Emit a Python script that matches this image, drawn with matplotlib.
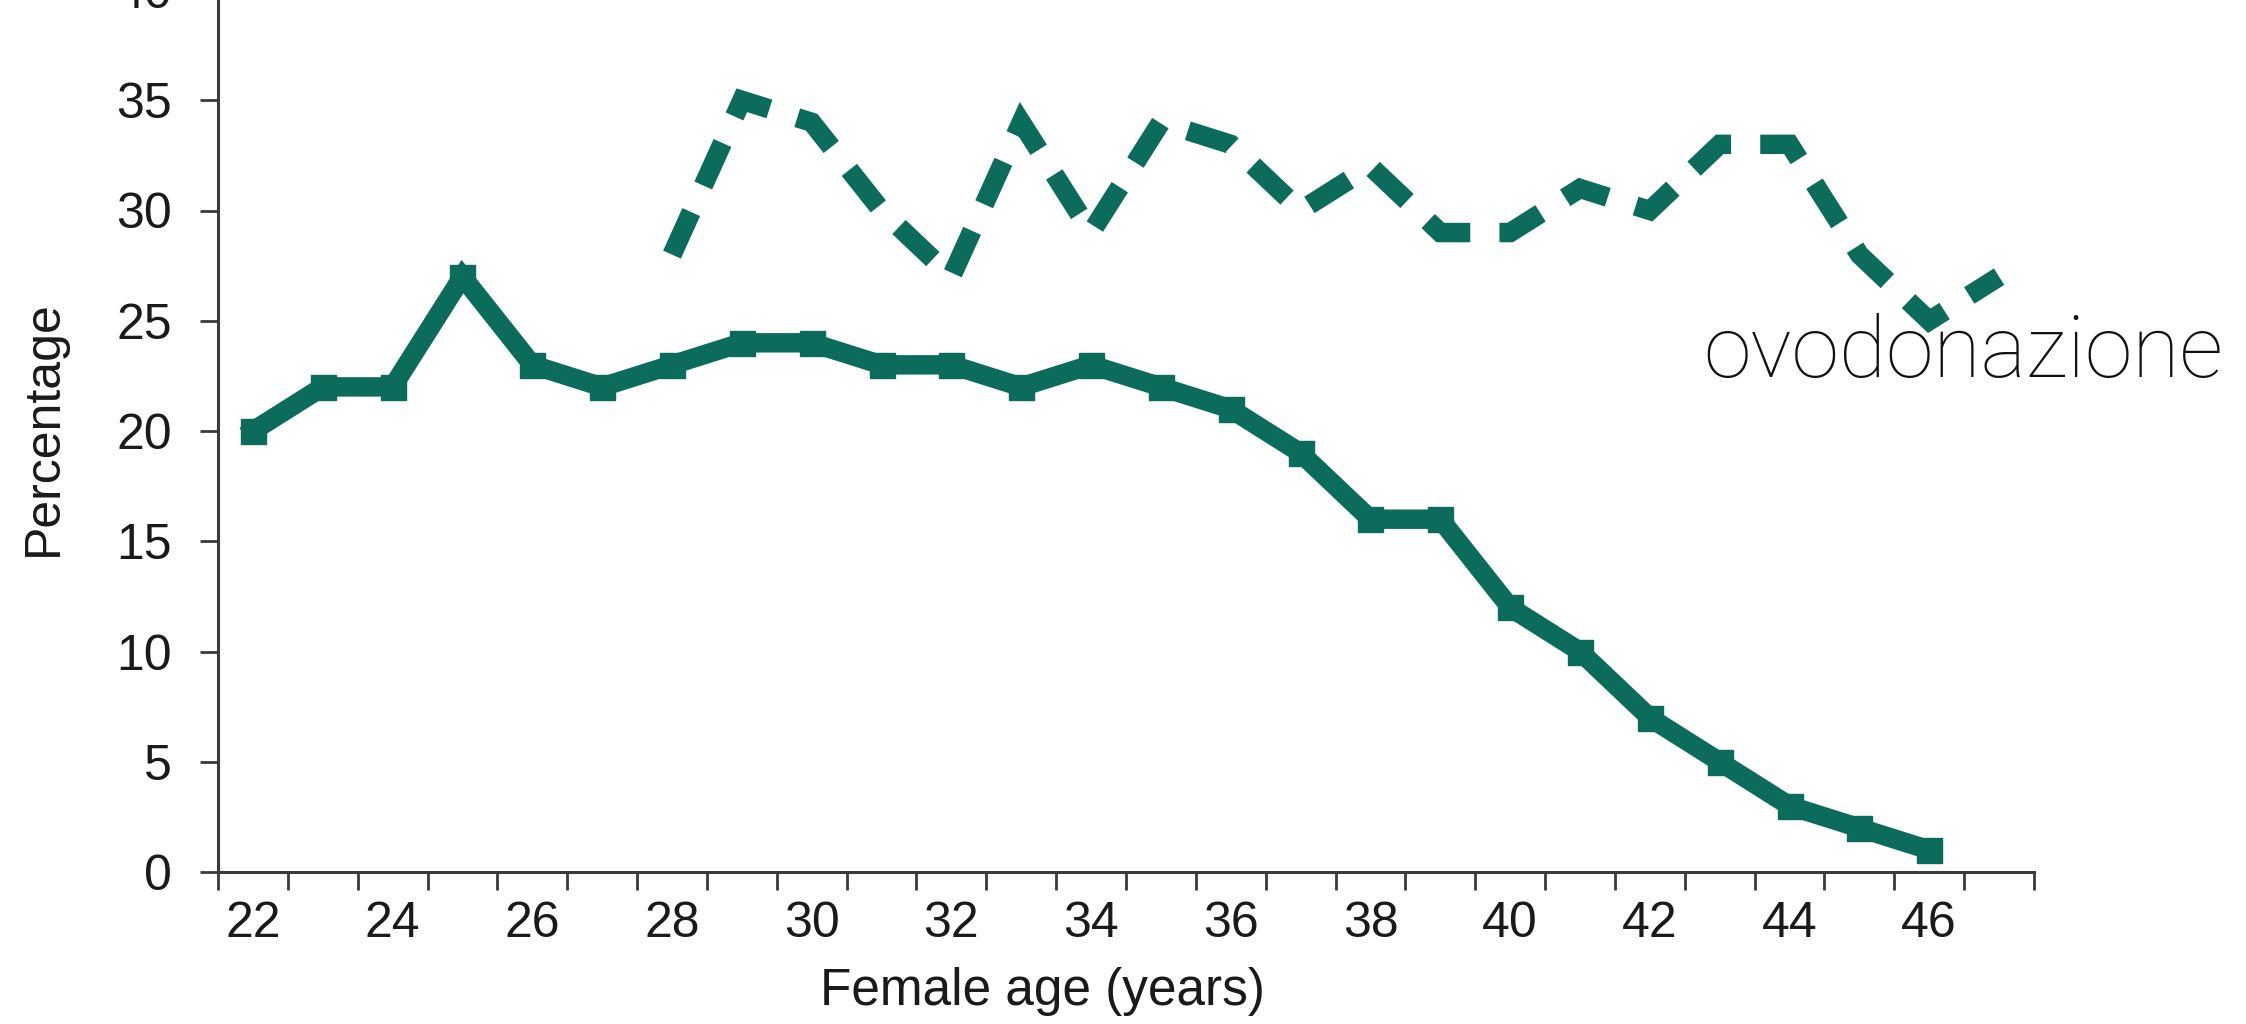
import matplotlib
matplotlib.use("Agg")
import matplotlib.pyplot as plt
import numpy as np

# ---- data ----
ages_own = [22, 23, 24, 25, 26, 27, 28, 29, 30, 31, 32, 33, 34, 35, 36, 37, 38, 39, 40, 41, 42, 43, 44, 45, 46]
pct_own = [20, 22, 22, 27, 23, 22, 23, 24, 24, 23, 23, 22, 23, 22, 21, 19, 16, 16, 12, 10, 7, 5, 3, 2, 1]

ages_donor = [28, 29, 30, 31, 32, 33, 34, 35, 36, 37, 38, 39, 40, 41, 42, 43, 44, 45, 46, 47]
pct_donor = [28, 35, 34, 30, 27, 34, 29, 34, 33, 30, 32, 29, 29, 31, 30, 33, 33, 28, 25, 27]

xtick_labels = [22, 24, 26, 28, 30, 32, 34, 36, 38, 40, 42, 44, 46]
ytick_values = [0, 5, 10, 15, 20, 25, 30, 35, 40]
annotation = "ovodonazione"

COLOR = "#0c6c5c"
AXCOL = "#3a3a3a"

W, H, DPI = 2246, 1024, 100
fig = plt.figure(figsize=(W / DPI, H / DPI), dpi=DPI)
plt.rcParams['font.family'] = ['Liberation Sans', 'DejaVu Sans']

left_px, right_px = 218, 2034
bottom_px, top_px = 872, -10
ax = fig.add_axes([left_px / W, 1 - bottom_px / H,
                   (right_px - left_px) / W, (bottom_px - top_px) / H])

ax.plot(ages_own, pct_own, color=COLOR, lw=14.0, marker='s', ms=18,
        mfc=COLOR, mec=COLOR, solid_joinstyle='miter', zorder=3, clip_on=False)
ax.plot(ages_donor, pct_donor, color=COLOR, lw=14.0, linestyle=(0, (2.4, 1.5)),
        dash_capstyle='butt', dash_joinstyle='miter', zorder=3, clip_on=False)

ax.set_xlim(21.5, 47.5)
ax.set_ylim(0, 40)

for s in ['top', 'right']:
    ax.spines[s].set_visible(False)
for s in ['left', 'bottom']:
    ax.spines[s].set_color(AXCOL)
    ax.spines[s].set_linewidth(2.2)

edges = np.arange(21.5, 47.6, 1.0)
ax.set_xticks(edges)
ax.set_xticklabels([''] * len(edges))
ax.set_xticks(xtick_labels, [str(v) for v in xtick_labels], minor=True)
ax.tick_params(axis='x', which='major', length=13, width=2.0, color=AXCOL, direction='out')
ax.tick_params(axis='x', which='minor', length=0, pad=21, labelsize=36, labelcolor='#1a1a1a')

ax.set_yticks(ytick_values, [str(v) for v in ytick_values])
ax.tick_params(axis='y', length=13, width=2.0, color=AXCOL, direction='out',
               pad=20, labelsize=36, labelcolor='#1a1a1a')

ax.set_xlabel("Female age (years)", fontsize=37, color='#1a1a1a')
ax.xaxis.set_label_coords((1042 - left_px) / (right_px - left_px),
                          -(992 - bottom_px) / (bottom_px - top_px))
ax.xaxis.label.set_va('center')

ax.set_ylabel("Percentage", fontsize=36, color='#1a1a1a')
ax.yaxis.set_label_coords((44 - left_px) / (right_px - left_px),
                          (bottom_px - 428) / (bottom_px - top_px))
ax.yaxis.label.set_va('center')

fig.text(1703 / W, 1 - 377 / H, annotation, fontsize=62, color='#111111',
         family=['Roboto', 'DejaVu Sans'], fontweight='light', ha='left', va='baseline')

fig.savefig("out.png", dpi=DPI, facecolor='white')
